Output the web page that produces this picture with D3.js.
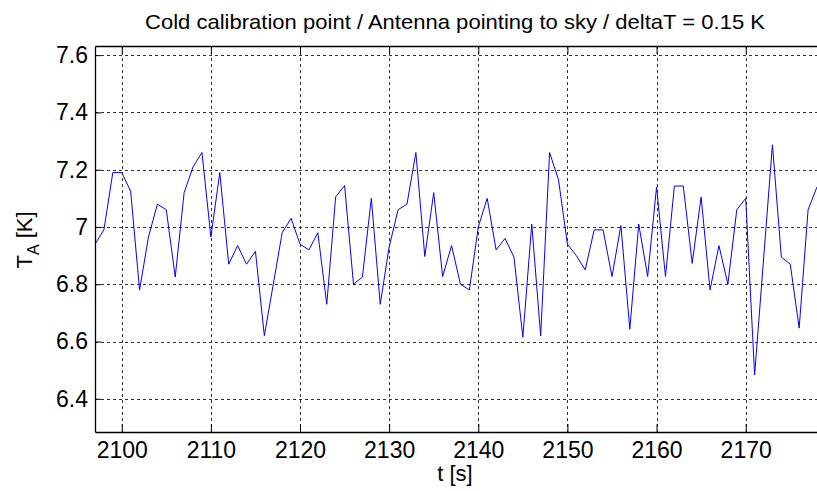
<!DOCTYPE html>
<html>
<head>
<meta charset="utf-8">
<script src="https://cdn.jsdelivr.net/npm/d3@7"></script>
<style>
  html, body { margin: 0; padding: 0; background: #fff; }
  svg { display: block; font-family: Arial, "Liberation Sans", sans-serif; }
</style>
</head>
<body>
<svg id="chart" width="817" height="491"></svg>
<script>
const titleText = "Cold calibration point / Antenna pointing to sky / deltaT = 0.15 K";
const xLabel = "t [s]";
const times = d3.range(2097, 2179);
const temps = [
  6.94, 6.99, 7.19, 7.19, 7.125, 6.78, 6.965, 7.08, 7.06, 6.825,
  7.12, 7.21, 7.26, 6.965, 7.19, 6.87, 6.935, 6.87, 6.915, 6.62,
  6.80, 6.98, 7.03, 6.94, 6.92, 6.98, 6.73, 7.105, 7.145, 6.80,
  6.825, 7.10, 6.73, 6.93, 7.06, 7.08, 7.26, 6.897, 7.12, 6.827,
  6.935, 6.80, 6.78, 7.0, 7.10, 6.92, 6.96, 6.895, 6.615, 7.01,
  6.62, 7.26, 7.165, 6.94, 6.90, 6.85, 6.99, 6.99, 6.827, 7.005,
  6.643, 7.01, 6.827, 7.14, 6.827, 7.143, 7.143, 6.873, 7.105, 6.78,
  6.935, 6.80, 7.06, 7.10, 6.483, 6.885, 7.287, 6.895, 6.87, 6.647,
  7.06, 7.14
];
const xTicks = [2100, 2110, 2120, 2130, 2140, 2150, 2160, 2170];
const yTicks = [6.4, 6.6, 6.8, 7.0, 7.2, 7.4, 7.6];
const yTickLabels = ["6.4", "6.6", "6.8", "7", "7.2", "7.4", "7.6"];

const svg = d3.select("#chart");
const pLeft = 95, pRight = 817, pTop = 46, pBottom = 432;

const x = d3.scaleLinear().domain([2097, 2178]).range([pLeft, pRight]);
const y = d3.scaleLinear().domain([6.284, 7.632]).range([pBottom, pTop]);

// grid
const grid = svg.append("g").attr("stroke", "#333").attr("stroke-width", 1)
  .attr("stroke-dasharray", "3,3").attr("shape-rendering", "crispEdges");
grid.selectAll(".gx").data(xTicks).join("line")
  .attr("x1", d => Math.round(x(d)) + 0.5).attr("x2", d => Math.round(x(d)) + 0.5)
  .attr("y1", pTop).attr("y2", pBottom);
grid.selectAll(".gy").data(yTicks).join("line")
  .attr("y1", d => Math.round(y(d)) + 0.5).attr("y2", d => Math.round(y(d)) + 0.5)
  .attr("x1", pLeft).attr("x2", pRight + 2);

// data line
svg.append("clipPath").attr("id", "clip").append("rect")
  .attr("x", pLeft).attr("y", pTop).attr("width", pRight - pLeft + 2).attr("height", pBottom - pTop);
const line = d3.line().x((d, i) => x(times[i])).y(d => y(d));
svg.append("path").datum(temps)
  .attr("clip-path", "url(#clip)")
  .attr("fill", "none").attr("stroke", "#0000ff").attr("stroke-width", 1)
  .attr("d", line);

// axes
const xAxisB = d3.axisBottom(x).tickValues(xTicks).tickSizeInner(-8).tickSizeOuter(0).tickPadding(10).tickFormat(d3.format("d"));
const xAxisT = d3.axisTop(x).tickValues(xTicks).tickSizeInner(-8).tickSizeOuter(0).tickFormat("");
const yAxisL = d3.axisLeft(y).tickValues(yTicks).tickSizeInner(-6).tickSizeOuter(0).tickPadding(7)
  .tickFormat((d, i) => yTickLabels[i]);

function style(g) {
  g.select(".domain").attr("stroke", "#000").attr("stroke-width", 1.3);
  g.selectAll(".tick line").attr("stroke", "#000").attr("stroke-width", 1);
  g.selectAll(".tick text").attr("fill", "#000").attr("font-size", 23)
    .attr("font-family", "Arial, 'Liberation Sans', sans-serif");
}
svg.append("g").attr("transform", `translate(0,${pBottom})`).call(xAxisB).call(style);
svg.append("g").attr("transform", `translate(0,${pTop})`).call(xAxisT).call(style);
svg.append("g").attr("transform", `translate(${pLeft},0)`).call(yAxisL).call(style);

// title
svg.append("text").attr("x", 455).attr("y", 29).attr("text-anchor", "middle")
  .attr("font-size", 21).attr("textLength", 620).attr("lengthAdjust", "spacingAndGlyphs")
  .attr("fill", "#000").text(titleText);

// x label
svg.append("text").attr("x", 455).attr("y", 481).attr("text-anchor", "middle")
  .attr("font-size", 22).attr("fill", "#000").text(xLabel);

// y label
const yl = svg.append("text").attr("transform", "translate(32,240) rotate(-90)")
  .attr("text-anchor", "middle").attr("font-size", 22).attr("fill", "#000");
yl.append("tspan").text("T");
yl.append("tspan").attr("font-size", 16).attr("dy", 7).text("A");
yl.append("tspan").attr("dy", -7).text(" [K]");
</script>
</body>
</html>
